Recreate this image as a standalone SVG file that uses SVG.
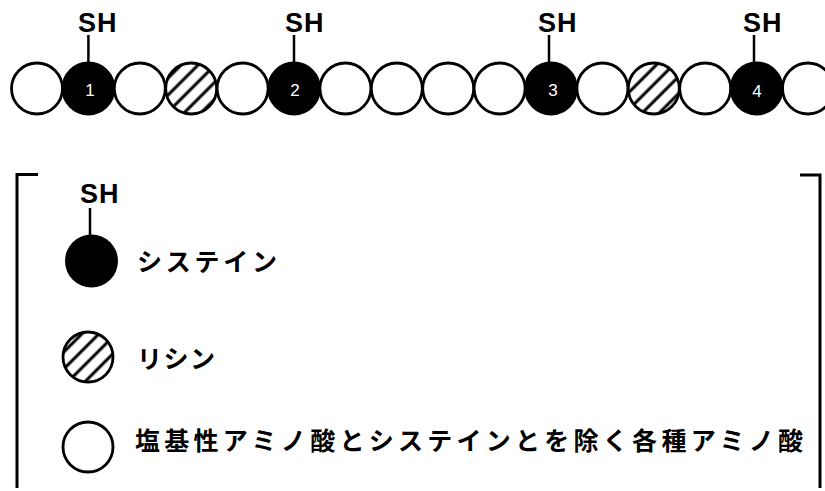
<svg xmlns="http://www.w3.org/2000/svg" width="825" height="491" viewBox="0 0 825 491">
  <defs>
    <pattern id="hatch" patternUnits="userSpaceOnUse" width="12" height="12" patternTransform="rotate(-45)">
      <rect width="12" height="12" fill="#fff"/>
      <line x1="0" y1="6" x2="12" y2="6" stroke="#000" stroke-width="3"/>
    </pattern>
  </defs>
  <style>
    .c { stroke: #000; stroke-width: 2.8; }
    .open { fill: #fff; }
    .cys { fill: #000; }
    .lys { fill: url(#hatch); }
    .sh { font-family: "Liberation Sans", Arial, sans-serif; font-weight: bold; font-size: 27px; letter-spacing: 1px; fill: #000; }
    .num { font-family: "Liberation Sans", Arial, sans-serif; font-size: 17px; fill: #fff; text-anchor: middle; }
    .bond { stroke: #000; stroke-width: 2.5; fill: none; }
    .br { stroke: #000; stroke-width: 3; fill: none; }
    .jp { font-family: "Noto Sans CJK JP", "Noto Sans CJK SC", sans-serif; font-weight: bold; font-size: 25px; fill: #000; }
  </style>
  <rect width="825" height="491" fill="#fff"/>

  <g id="chain">
    <g id="aa1"><circle class="c open" cx="37" cy="88.5" r="25.5"/></g>
    <g id="aa2"><circle class="c cys" cx="88.4" cy="88.5" r="25.5"/><text class="num" x="90" y="96">1</text><text class="sh" x="78" y="32">SH</text></g>
    <g id="aa3"><circle class="c open" cx="139.8" cy="88.5" r="25.5"/></g>
    <g id="aa4"><circle class="c lys" cx="191.2" cy="88.5" r="25.5"/></g>
    <g id="aa5"><circle class="c open" cx="242.6" cy="88.5" r="25.5"/></g>
    <g id="aa6"><circle class="c cys" cx="294" cy="88.5" r="25.5"/><text class="num" x="295" y="96">2</text><text class="sh" x="285" y="32">SH</text></g>
    <g id="aa7"><circle class="c open" cx="345.4" cy="88.5" r="25.5"/></g>
    <g id="aa8"><circle class="c open" cx="396.8" cy="88.5" r="25.5"/></g>
    <g id="aa9"><circle class="c open" cx="448.2" cy="88.5" r="25.5"/></g>
    <g id="aa10"><circle class="c open" cx="499.6" cy="88.5" r="25.5"/></g>
    <g id="aa11"><circle class="c cys" cx="551" cy="88.5" r="25.5"/><text class="num" x="553" y="96">3</text><text class="sh" x="538" y="32">SH</text></g>
    <g id="aa12"><circle class="c open" cx="602.4" cy="88.5" r="25.5"/></g>
    <g id="aa13"><circle class="c lys" cx="653.8" cy="88.5" r="25.5"/></g>
    <g id="aa14"><circle class="c open" cx="705.2" cy="88.5" r="25.5"/></g>
    <g id="aa15"><circle class="c cys" cx="756.6" cy="88.5" r="25.5"/><text class="num" x="757" y="97">4</text><text class="sh" x="743" y="32">SH</text></g>
    <g id="aa16"><circle class="c open" cx="808" cy="88.5" r="25.5"/></g>
  </g>

  <g id="connectors">
    <line class="bond" x1="88.4" y1="35" x2="88.4" y2="63"/>
    <line class="bond" x1="294" y1="35" x2="294" y2="63"/>
    <line class="bond" x1="549" y1="35" x2="549" y2="63"/>
    <line class="bond" x1="754" y1="35" x2="754" y2="63"/>
    <line class="bond" x1="90" y1="208" x2="90" y2="235"/>
  </g>

  <g id="legend">
    <path class="br" d="M38,174.5 H17 V488"/>
    <path class="br" d="M800,175 H820 V488"/>
    <g id="legend-cys">
      <text class="sh" x="80" y="203">SH</text>
      <circle class="cys" cx="91.5" cy="261" r="26.5"/>
      <text class="jp" x="137" y="271" textLength="140" lengthAdjust="spacing">システイン</text>
    </g>
    <g id="legend-lys">
      <circle class="c lys" cx="88" cy="357" r="25"/>
      <text class="jp" x="137" y="368" textLength="78" lengthAdjust="spacing">リシン</text>
    </g>
    <g id="legend-other">
      <circle class="c open" cx="88" cy="447" r="25"/>
      <text class="jp" x="135" y="450" textLength="668" lengthAdjust="spacing">塩基性アミノ酸とシステインとを除く各種アミノ酸</text>
    </g>
  </g>
</svg>
